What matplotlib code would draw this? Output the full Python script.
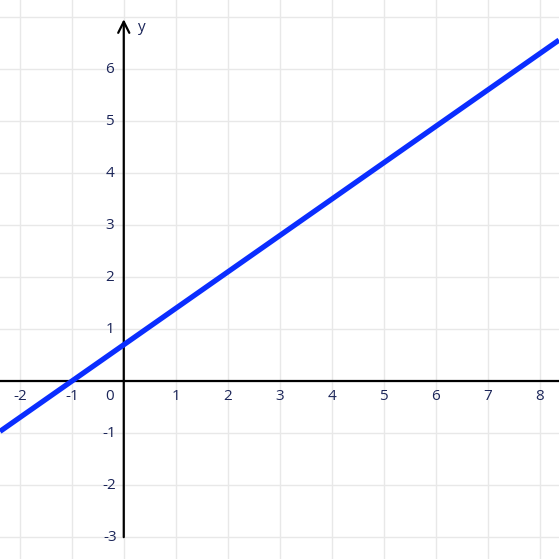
import numpy as np
import matplotlib.pyplot as plt

# line y = slope * x + intercept
slope = 0.7
intercept = 0.7
x_ticks = [-2, -1, 1, 2, 3, 4, 5, 6, 7, 8]
y_ticks = [-3, -2, -1, 1, 2, 3, 4, 5, 6]
x_lim = (-2.38, 8.37)
y_lim = (-3.42, 7.33)

label_color = '#1b2559'

fig = plt.figure(figsize=(5.59, 5.59), dpi=100)
ax = fig.add_axes([0, 0, 1, 1])
ax.set_xlim(*x_lim)
ax.set_ylim(*y_lim)
ax.axis('off')

# grid
for gx in range(-2, 9):
    ax.axvline(gx, color='#e8e8e8', lw=1, zorder=0)
for gy in range(-3, 8):
    ax.axhline(gy, color='#e8e8e8', lw=1, zorder=0)

# axes
ax.axhline(0, color='black', lw=1.6, zorder=2)
ax.annotate('', xy=(0, 6.96), xytext=(0, -3.0),
            arrowprops=dict(arrowstyle='->', lw=1.6, color='black',
                            mutation_scale=20, shrinkA=0, shrinkB=0), zorder=2)
ax.text(0.28, 6.8, 'y', color=label_color, fontsize=11, family='Open Sans',
        ha='left', va='center')

# tick labels
for t in x_ticks:
    ax.text(t, -0.3, str(t), color=label_color, fontsize=11, family='Open Sans',
            ha='center', va='center')
for t in y_ticks:
    ax.text(-0.27, t, str(t), color=label_color, fontsize=11, family='Open Sans',
            ha='center', va='center')
ax.text(-0.27, -0.3, '0', color=label_color, fontsize=11, family='Open Sans',
        ha='center', va='center')

# the line
xs = np.array(x_lim)
ax.plot(xs, slope * xs + intercept, color='#0a2dff', lw=3.8, zorder=3,
        solid_capstyle='butt')

fig.savefig('out.png', dpi=100)
